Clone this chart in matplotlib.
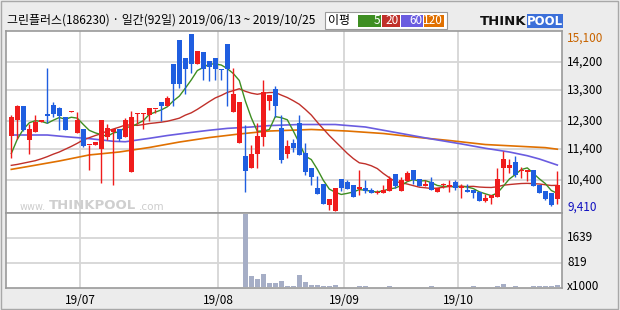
import numpy as np
import matplotlib
matplotlib.use("Agg")
import matplotlib.pyplot as plt
from matplotlib.patches import Rectangle

plt.rcParams['font.family'] = ['Noto Sans CJK KR', 'DejaVu Sans']

# ---------------- data ----------------
opens = [11830, 12330, 12790, 11710, 11960, 12290, 12530, 12820, 12720, 12440,
         12610, 11930, 12050, 11520, 11530, 11420, 11790, 11950, 12040, 11790,
         10680, 12540, 12540, 12500, 12700, 12920, 12790, 14150, 14920, 14330,
         15100, 14130, 14530, 14240, 14330, 13990, 14780, 12610, 11610, 11180,
         10800, 11260, 11790, 12950, 13330, 12070, 11260, 11600, 12240, 11270,
         10800, 10160, 10270, 9600, 9410, 10430, 10350, 10250, 10110, 10150,
         10090, 9990, 10000, 10050, 10590, 10050, 10380, 10720, 10430, 10220,
         10340, 10030, 10240, 10180, 10340, 10140, 10100, 10090, 10020, 9730,
         9840, 9870, 10800, 10800, 10990, 10710, 10680, 10730, 10250, 10050,
         9990, 9810]
highs = [12500, 12820, 12800, 12200, 12500, 12340, 14030, 12930, 12760, 12440,
         12630, 12600, 12050, 11530, 11630, 12340, 12200, 12060, 12040, 12400,
         12630, 12550, 12550, 12720, 12710, 12920, 13100, 14150, 14920, 14330,
         15100, 14560, 14530, 14240, 14330, 13990, 14780, 14010, 12930, 12180,
         11540, 12250, 13630, 13150, 13440, 12500, 11690, 11720, 12500, 11590,
         10800, 10540, 10270, 9790, 10160, 10430, 10410, 10250, 10720, 10400,
         10140, 10090, 10250, 10540, 10590, 10520, 10700, 10720, 10430, 10410,
         10500, 10160, 10310, 10400, 10410, 10280, 10270, 10090, 10020, 9970,
         9930, 10800, 11340, 11080, 11180, 10830, 10720, 10730, 10250, 10050,
         9990, 10700]
lows = [11130, 11720, 11990, 11260, 11960, 12280, 12250, 12440, 12030, 12030,
        12610, 11930, 11470, 10720, 11530, 10320, 11700, 10240, 11660, 11790,
        10680, 12200, 12040, 12310, 12580, 12310, 12790, 12790, 13370, 13170,
        13860, 14130, 13630, 13600, 13630, 13630, 12790, 12610, 11610, 10030,
        10800, 10790, 11500, 12660, 12440, 10970, 11130, 11320, 11210, 10570,
        10250, 9950, 9650, 9430, 9410, 10050, 10130, 9870, 9930, 10000,
        10000, 9960, 10000, 10050, 10160, 10050, 10380, 10270, 10220, 10220,
        10080, 10030, 10160, 10030, 10080, 9840, 10030, 9840, 9730, 9710,
        9630, 9870, 10350, 10640, 10510, 10480, 10380, 10220, 10000, 9750,
        9570, 9650]
closes = [12440, 12790, 12020, 12050, 12290, 12330, 12480, 12520, 12480, 12030,
          12630, 12340, 11500, 11530, 11630, 12340, 12070, 12050, 11720, 12330,
          12440, 12550, 12550, 12720, 12710, 12790, 13060, 13490, 13490, 13990,
          14130, 14560, 13990, 14050, 13990, 13960, 13990, 13190, 12930, 10700,
          11240, 11830, 13240, 13150, 12790, 11060, 11500, 11430, 11210, 10680,
          10510, 9950, 9650, 9790, 10160, 10160, 10130, 9870, 10180, 10050,
          10000, 10000, 10090, 10450, 10220, 10400, 10620, 10410, 10220, 10290,
          10080, 10160, 10250, 10250, 10160, 10220, 10030, 10000, 9730, 9840,
          9920, 10450, 11090, 10890, 10570, 10720, 10720, 10220, 10000, 9810,
          9600, 10250]
volumes = [25, 25, 25, 25, 25, 25, 25, 25, 25, 25,
           25, 25, 25, 25, 25, 25, 25, 25, 25, 25,
           25, 25, 25, 25, 25, 25, 25, 25, 25, 25,
           25, 25, 25, 25, 25, 25, 25, 25, 25, 2430,
           384, 284, 451, 150, 150, 217, 50, 50, 418, 194,
           73, 73, 50, 50, 84, 25, 25, 25, 50, 50,
           25, 25, 25, 50, 25, 25, 25, 25, 25, 25,
           50, 25, 25, 25, 25, 25, 25, 50, 25, 25,
           25, 50, 117, 25, 50, 25, 25, 50, 50, 50,
           50, 84]

# moving averages: values before the data window
ma5_head = [11260, 11720, 12040, 12250]
ma20_head = [10880, 10910, 10950, 10990, 11030, 11090, 11160, 11240, 11310, 11400,
             11490, 11590, 11700, 11770, 11840, 11900, 11990, 12050, 12110]
ma60_idx = [0, 6, 9, 13, 17, 19, 23, 26, 30, 33, 36, 40, 43, 48, 54, 59, 64,
            70, 75, 79, 83, 86, 88, 91]
ma60_val = [11857, 11857, 11803, 11740, 11655, 11640, 11750, 11840, 11940, 12010,
            12070, 12115, 12160, 12195, 12195, 12115, 11940, 11730, 11570, 11430,
            11310, 11190, 11085, 10890]
ma120_idx = [0, 3, 8, 13, 18, 23, 28, 33, 38, 43, 50, 56, 62, 68, 73, 79, 85, 89, 91]
ma120_val = [10750, 10850, 11020, 11215, 11310, 11455, 11630, 11775, 11890, 11985,
             12035, 11985, 11905, 11775, 11680, 11550, 11490, 11450, 11400]

month_labels = ['19/07', '19/08', '19/09', '19/10']
month_first_idx = [12, 35, 56, 75]
price_ticks = [14200, 13300, 12300, 11400, 10400]
price_high_label = 15100
price_low_label = 9410
vol_ticks = [1639, 819]

title = '그린플러스(186230) · 일간(92일) 2019/06/13 ~ 2019/10/25'
ma_labels = ['5', '20', '60', '120']

# ---------------- derived ----------------
n = len(closes)
x = np.arange(n)
c = np.array(closes, float)
ma5 = np.array([ma5_head[i] if i < 4 else c[i-4:i+1].mean() for i in range(n)])
ma20 = np.array([ma20_head[i] if i < 19 else c[i-19:i+1].mean() for i in range(n)])

RED = '#f01c1c'
BLUE = '#1f5ee0'
C5, C20, C60, C120 = '#3e8e22', '#c0302a', '#6a5ce0', '#e07000'
GRID = '#d6d6d6'
BORDER = '#9a9a9a'

W, H = 620, 310
fig = plt.figure(figsize=(W/100, H/100), dpi=100)
fig.patch.set_facecolor('#ececec')

def fx(px):
    return px / W

def fy(py):
    return 1 - py / H

px_left, px_right = 6, 562
py_top, py_mid, py_bot = 31, 212.7, 288

axp = fig.add_axes([fx(px_left), fy(py_mid), (px_right-px_left)/W, (py_mid-py_top)/H])
axv = fig.add_axes([fx(px_left), fy(py_bot), (px_right-px_left)/W, (py_bot-py_mid)/H])

xlim = ((px_left - 11.3)/6, (px_right - 11.3)/6)
for ax in (axp, axv):
    ax.set_facecolor('white')
    ax.set_xlim(*xlim)
    ax.set_xticks([])
    ax.set_yticks([])
    for s in ax.spines.values():
        s.set_color(BORDER)
        s.set_linewidth(1.2)
    for m in month_first_idx:
        ax.axvline(m - 0.5, color=GRID, lw=1.3, zorder=0)

axp.set_ylim(9355, 15206)
axv.set_ylim(-20, 2470)
for t in price_ticks:
    axp.axhline(t, color=GRID, lw=1.3, zorder=0)
for t in vol_ticks:
    axv.axhline(t, color=GRID, lw=1.3, zorder=0)

# watermark
fig.text(fx(20), fy(207), 'www.', color='#cdcdcd', fontsize=7, va='center', ha='left',
         family='DejaVu Sans')
fig.text(fx(49), fy(205.5), 'THINKPOOL', color='#cfcfcf', fontsize=9.5, fontweight='bold',
         va='center', ha='left', family='DejaVu Sans')
fig.text(fx(139), fy(207), '.com', color='#cdcdcd', fontsize=7.5, va='center', ha='left',
         family='DejaVu Sans')

# MA lines
axp.plot(ma120_idx, ma120_val, color=C120, lw=1.2, zorder=2)
axp.plot(ma60_idx, ma60_val, color=C60, lw=1.2, zorder=2)
axp.plot(x, ma20, color=C20, lw=1.0, zorder=2)
axp.plot(x, ma5, color=C5, lw=1.0, zorder=2)

# candles
o = np.array(opens, float)
hi = np.array(highs, float)
lo = np.array(lows, float)
up = c >= o
cols = np.where(up, RED, BLUE)
axp.vlines(x, lo, hi, colors=cols, lw=1.0, zorder=3)
body_bot = np.minimum(o, c)
body_h = np.maximum(np.abs(c - o), 35)
axp.bar(x, body_h, bottom=body_bot, width=0.78, color=cols, lw=0, zorder=4)

# volume
axv.bar(x, volumes, width=0.8, color='#a6aec6', lw=0, zorder=2)

# right-side labels
lab_x = fx(567)
def py_of_price(p):
    y0, y1 = axp.get_ylim()
    return py_mid - (p - y0) / (y1 - y0) * (py_mid - py_top)

fig.text(lab_x, fy(38), f'{price_high_label:,}', color='#c86400', fontsize=8.5,
         va='center', ha='left')
for t in price_ticks:
    fig.text(lab_x, fy(py_of_price(t)), f'{t:,}', color='black', fontsize=8.5,
             va='center', ha='left')
fig.text(lab_x, fy(207), f'{price_low_label:,}', color='#1010c0', fontsize=8.5,
         va='center', ha='left')

def py_of_vol(v):
    y0, y1 = axv.get_ylim()
    return py_bot - (v - y0) / (y1 - y0) * (py_bot - py_mid)

for t in vol_ticks:
    fig.text(lab_x, fy(py_of_vol(t)), str(t), color='black', fontsize=8.5,
             va='center', ha='left')
fig.text(lab_x, fy(286), 'x1000', color='black', fontsize=8.5, va='center', ha='left')

# month labels
for lab, m in zip(month_labels, month_first_idx):
    xp = 11.3 + 6 * (m - 0.5)
    fig.text(fx(xp), fy(300), lab, color='black', fontsize=8.5, va='center', ha='center')

# title
fig.text(fx(7), fy(20), title, color='black', fontsize=8.6, va='center', ha='left')

# legend box
fig.patches.append(Rectangle((fx(325), fy(28.5)), 122/W, 16.5/H, transform=fig.transFigure,
                             facecolor='white', edgecolor='#9a9a9a', lw=0.8))
fig.text(fx(328), fy(20.5), '이평', color='black', fontsize=8.6, va='center', ha='left')
boxes = [(358, 381, C5), (382, 400, C20), (401, 423, C60), (424, 444, C120)]
for (x0, x1, col), lab in zip(boxes, ma_labels):
    fig.patches.append(Rectangle((fx(x0), fy(27)), (x1-x0)/W, 12/H,
                                 transform=fig.transFigure, facecolor=col, edgecolor='none'))
    fig.text(fx(x1 - 1), fy(21), lab, color='white', fontsize=8.5, va='center', ha='right')

# logo
fig.text(fx(526.5), fy(21.5), 'THINK', color='#111111', fontsize=9.5, fontweight='bold',
         va='center', ha='right', family='DejaVu Sans')
fig.patches.append(Rectangle((fx(527), fy(28)), 36/W, 14/H, transform=fig.transFigure,
                             facecolor='#3b6fd9', edgecolor='none'))
fig.text(fx(545), fy(21.5), 'POOL', color='white', fontsize=8.5, fontweight='bold',
         va='center', ha='center', family='DejaVu Sans')

# outer frame
fig.patches.append(Rectangle((0.0015, 0.003), 0.996, 0.994, transform=fig.transFigure,
                             facecolor='none', edgecolor='#a8a8a8', lw=1.0))

fig.savefig('out.png', dpi=100, facecolor=fig.get_facecolor())
